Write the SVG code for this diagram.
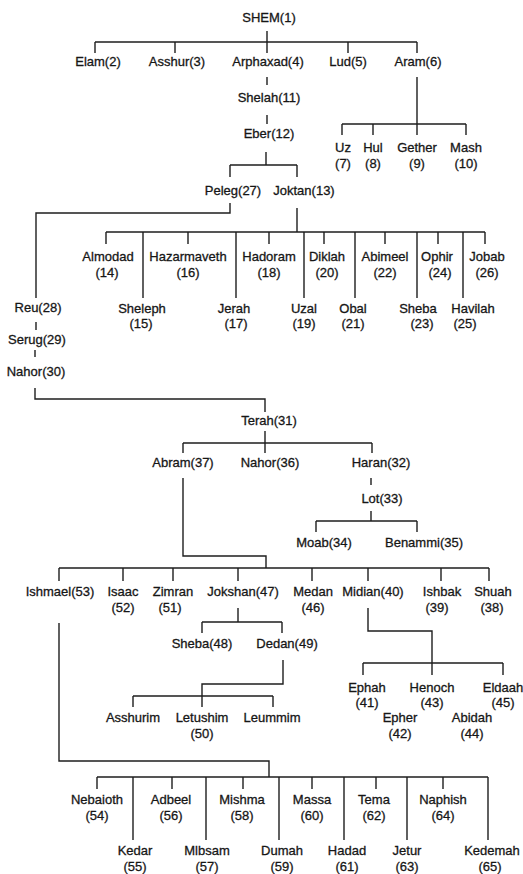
<svg xmlns="http://www.w3.org/2000/svg" width="523" height="874" viewBox="0 0 523 874">
<style>
text{font-family:"Liberation Sans",Arial,sans-serif;font-size:13px;fill:#161616;stroke:#161616;stroke-width:0.3;text-anchor:middle}
.c path{fill:none;stroke:#1e1e1e;stroke-width:1.4}
</style>
<rect width="523" height="874" fill="#ffffff"/>
<g id="connectors" class="c">
<path d="M267,31V53M95,42H417M95,42V53M175,42V53M348,42V53M417,42V53"/>
<path d="M267,77V85M267,115V124"/>
<path d="M417,77V135M342,124H466M342,124V135M373,124V135M466,124V135"/>
<path d="M266,152V165M230,165H297M230,165V177M297,165V177"/>
<path d="M230,203V213H36V298"/>
<path d="M36,322V330M35,350V357"/>
<path d="M35,388V399H265V412"/>
<path d="M265,431V453M183,443H372M183,443V453M372,443V453"/>
<path d="M371,478V485M371,511V521M316,521H417M316,521V532M417,521V532"/>
<path d="M183,478V556H266V568M59,568H489M59,568V581M123,568V581M173,568V581M238,568V581M312,568V581M368,568V581M441,568V581M489,568V581"/>
<path d="M238,608V622M202,622H282M202,622V633M282,622V633"/>
<path d="M283,660V684H202V707M133,696H273M133,696V707M273,696V707"/>
<path d="M368,608V631H432V675M363,663H503M363,663V675M503,663V675"/>
<path d="M59,623V761H269V777M97,777H488M97,777V789M172,777V789M243,777V789M312,777V789M376,777V789M443,777V789M133,777V840M206,777V840M279,777V840M344,777V840M407,777V840M488,777V840"/>
<path d="M297,208V232M106,232H485M106,232V244M188,232V244M269,232V244M324,232V244M385,232V244M438,232V244M485,232V244M143,232V298M236,232V298M304,232V298M355,232V298M417,232V298M463,232V298"/>
</g>
<g id="n1"><text x="269" y="22">SHEM(1)</text></g>
<g id="n2"><text x="98" y="66">Elam(2)</text></g>
<g id="n3"><text x="177" y="66">Asshur(3)</text></g>
<g id="n4"><text x="268" y="66">Arphaxad(4)</text></g>
<g id="n5"><text x="348" y="66">Lud(5)</text></g>
<g id="n6"><text x="418" y="66">Aram(6)</text></g>
<g id="n11"><text x="269" y="102">Shelah(11)</text></g>
<g id="n12"><text x="269" y="138">Eber(12)</text></g>
<g id="n7"><text x="343" y="152">Uz</text><text x="343" y="168">(7)</text></g>
<g id="n8"><text x="373" y="152">Hul</text><text x="373" y="168">(8)</text></g>
<g id="n9"><text x="417" y="152">Gether</text><text x="417" y="168">(9)</text></g>
<g id="n10"><text x="466" y="152">Mash</text><text x="466" y="168">(10)</text></g>
<g id="n27"><text x="233" y="195">Peleg(27)</text></g>
<g id="n13"><text x="304" y="195">Joktan(13)</text></g>
<g id="n14"><text x="108" y="261">Almodad</text><text x="107" y="277">(14)</text></g>
<g id="n16"><text x="188" y="261">Hazarmaveth</text><text x="188" y="277">(16)</text></g>
<g id="n18"><text x="269" y="261">Hadoram</text><text x="269" y="277">(18)</text></g>
<g id="n20"><text x="327" y="261">Diklah</text><text x="327" y="277">(20)</text></g>
<g id="n22"><text x="385" y="261">Abimeel</text><text x="385" y="277">(22)</text></g>
<g id="n24"><text x="437" y="261">Ophir</text><text x="440" y="277">(24)</text></g>
<g id="n26"><text x="487" y="261">Jobab</text><text x="487" y="277">(26)</text></g>
<g id="n15"><text x="142" y="313">Sheleph</text><text x="141" y="328">(15)</text></g>
<g id="n17"><text x="234" y="313">Jerah</text><text x="236" y="328">(17)</text></g>
<g id="n19"><text x="304" y="313">Uzal</text><text x="304" y="328">(19)</text></g>
<g id="n21"><text x="353" y="313">Obal</text><text x="353" y="328">(21)</text></g>
<g id="n23"><text x="418" y="313">Sheba</text><text x="422" y="328">(23)</text></g>
<g id="n25"><text x="473" y="313">Havilah</text><text x="465" y="328">(25)</text></g>
<g id="n28"><text x="38" y="312">Reu(28)</text></g>
<g id="n29"><text x="37" y="344">Serug(29)</text></g>
<g id="n30"><text x="36" y="376">Nahor(30)</text></g>
<g id="n31"><text x="269" y="425">Terah(31)</text></g>
<g id="n37"><text x="183" y="467">Abram(37)</text></g>
<g id="n36"><text x="270" y="467">Nahor(36)</text></g>
<g id="n32"><text x="381" y="467">Haran(32)</text></g>
<g id="n33"><text x="382" y="503">Lot(33)</text></g>
<g id="n34"><text x="324" y="547">Moab(34)</text></g>
<g id="n35"><text x="424" y="547">Benammi(35)</text></g>
<g id="n53"><text x="60" y="596">Ishmael(53)</text></g>
<g id="n52"><text x="123" y="596">Isaac</text><text x="123" y="612">(52)</text></g>
<g id="n51"><text x="173" y="596">Zimran</text><text x="170" y="612">(51)</text></g>
<g id="n47"><text x="243" y="596">Jokshan(47)</text></g>
<g id="n46"><text x="313" y="596">Medan</text><text x="313" y="612">(46)</text></g>
<g id="n40"><text x="373" y="596">Midian(40)</text></g>
<g id="n39"><text x="442" y="596">Ishbak</text><text x="437" y="612">(39)</text></g>
<g id="n38"><text x="493" y="596">Shuah</text><text x="492" y="612">(38)</text></g>
<g id="n48"><text x="202" y="648">Sheba(48)</text></g>
<g id="n49"><text x="287" y="648">Dedan(49)</text></g>
<g id="n_asshurim"><text x="133" y="722">Asshurim</text></g>
<g id="n50"><text x="202" y="722">Letushim</text><text x="202" y="738">(50)</text></g>
<g id="n_leummim"><text x="272" y="722">Leummim</text></g>
<g id="n41"><text x="367" y="692">Ephah</text><text x="367" y="707">(41)</text></g>
<g id="n43"><text x="432" y="692">Henoch</text><text x="432" y="707">(43)</text></g>
<g id="n45"><text x="503" y="692">Eldaah</text><text x="503" y="707">(45)</text></g>
<g id="n42"><text x="400" y="722">Epher</text><text x="400" y="738">(42)</text></g>
<g id="n44"><text x="472" y="722">Abidah</text><text x="472" y="738">(44)</text></g>
<g id="n54"><text x="97" y="804">Nebaioth</text><text x="97" y="820">(54)</text></g>
<g id="n56"><text x="171" y="804">Adbeel</text><text x="171" y="820">(56)</text></g>
<g id="n58"><text x="242" y="804">Mishma</text><text x="242" y="820">(58)</text></g>
<g id="n60"><text x="312" y="804">Massa</text><text x="312" y="820">(60)</text></g>
<g id="n62"><text x="374" y="804">Tema</text><text x="374" y="820">(62)</text></g>
<g id="n64"><text x="443" y="804">Naphish</text><text x="443" y="820">(64)</text></g>
<g id="n55"><text x="135" y="855">Kedar</text><text x="135" y="871">(55)</text></g>
<g id="n57"><text x="207" y="855">Mlbsam</text><text x="207" y="871">(57)</text></g>
<g id="n59"><text x="282" y="855">Dumah</text><text x="282" y="871">(59)</text></g>
<g id="n61"><text x="347" y="855">Hadad</text><text x="347" y="871">(61)</text></g>
<g id="n63"><text x="407" y="855">Jetur</text><text x="407" y="871">(63)</text></g>
<g id="n65"><text x="492" y="855">Kedemah</text><text x="490" y="871">(65)</text></g>
</svg>
